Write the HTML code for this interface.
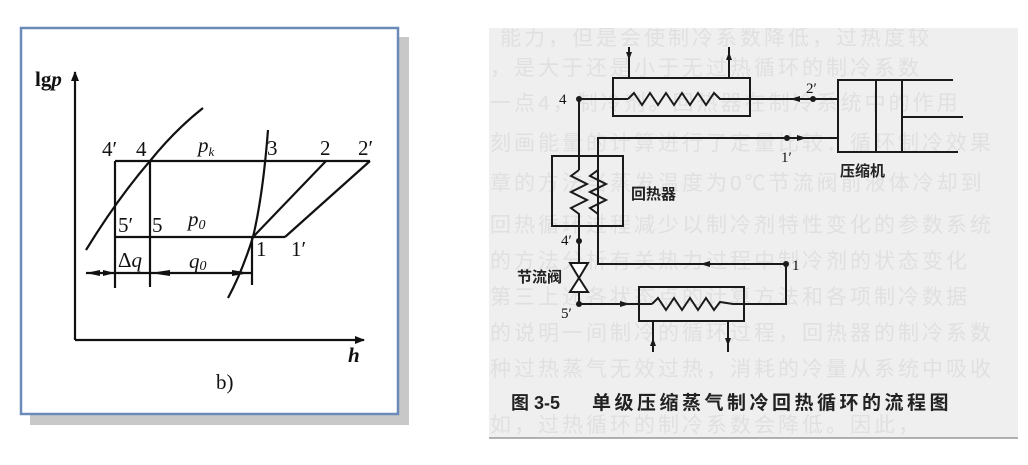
<!DOCTYPE html>
<html><head><meta charset="utf-8"><style>
html,body{margin:0;padding:0;background:#fff;width:1028px;height:465px;overflow:hidden}
svg{display:block}
.t{font-family:"Liberation Serif","Noto Serif CJK SC",serif;fill:#111}
.c{font-family:"Liberation Sans","Noto Sans CJK SC",sans-serif;fill:#222;font-weight:bold}
.bg{font-family:"Liberation Sans","Noto Sans CJK SC",sans-serif;fill:#e0e0e0;font-size:21px;letter-spacing:3px}
</style></head><body>
<svg width="1028" height="465" viewBox="0 0 1028 465" xmlns="http://www.w3.org/2000/svg">
<defs>
<marker id="ah" markerWidth="10" markerHeight="8" refX="9" refY="4" orient="auto" markerUnits="userSpaceOnUse"><path d="M0,0 L10,4 L0,8 z" fill="#111"/></marker>
<clipPath id="cp"><rect x="489" y="28" width="529" height="410"/></clipPath>
</defs>
<!-- LEFT PANEL -->
<rect x="30" y="37" width="379" height="388" fill="#c8c8c8"/>
<rect x="21" y="28" width="377" height="386" fill="#fff" stroke="#6a8bb8" stroke-width="2.5"/>
<g stroke="#111" fill="none" stroke-width="2.2">
<line x1="75" y1="340" x2="75" y2="72" marker-end="url(#ah)"/>
<line x1="75" y1="340" x2="364" y2="340" marker-end="url(#ah)"/>
<line x1="115" y1="161" x2="370" y2="161"/>
<line x1="115" y1="161" x2="115" y2="288"/>
<line x1="150" y1="161" x2="150" y2="287"/>
<line x1="115" y1="237" x2="285" y2="237"/>
<line x1="285" y1="237" x2="370" y2="161"/>
<line x1="253" y1="237" x2="326" y2="161"/>
<path d="M86,250 Q118,198 150,161 Q175,130 203,108"/>
<path d="M268,130 Q263,195 253,237 Q242,272 228,298"/>
<line x1="252" y1="237" x2="252" y2="285"/>
<line x1="86" y1="273" x2="252" y2="273"/>
</g>
<g fill="#111">
<path d="M86,273 l14,-3 v6z"/><path d="M115,273 l-12,-3 v6z"/>
<path d="M150,273 l20,-3 v6z"/><path d="M250,273 l-18,-3 v6z"/>
</g>
<g class="t" font-size="21">
<text x="35" y="86" font-weight="bold">lg<tspan font-style="italic">p</tspan></text>
<text x="102" y="156">4′</text><text x="136" y="156">4</text>
<text x="198" y="152" font-style="italic">p<tspan font-size="13" dy="4">k</tspan></text>
<text x="267" y="155">3</text><text x="320" y="155">2</text><text x="358" y="155">2′</text>
<text x="118" y="232">5′</text><text x="152" y="232">5</text>
<text x="188" y="226" font-style="italic">p<tspan font-size="14" dy="3">0</tspan></text>
<text x="256" y="256">1</text><text x="291" y="256">1′</text>
<text x="118" y="267">Δ<tspan font-style="italic">q</tspan></text>
<text x="189" y="268" font-style="italic">q<tspan font-size="14" dy="2">0</tspan></text>
<text x="348" y="362" font-style="italic" font-weight="bold">h</text>
<text x="216" y="389">b)</text>
</g>
<!-- RIGHT PANEL -->
<rect x="489" y="28" width="529" height="410" fill="#efefef"/>
<line x1="489" y1="438" x2="1018" y2="438" stroke="#999" stroke-width="1.5"/>
<g class="bg" clip-path="url(#cp)">
<text x="500" y="45">能力，但是会使制冷系数降低，过热度较</text>
<text x="490" y="75">，是大于还是小于无过热循环的制冷系数</text>
<text x="490" y="110">一点4，制冷剂。回热器在制冷系统中的作用</text>
<text x="490" y="150">刻画能量的计算进行了定量比较：循环制冷效果</text>
<text x="490" y="190">章的方法当蒸发温度为0℃节流阀前液体冷却到</text>
<text x="490" y="232">回热循环过程减少以制冷剂特性变化的参数系统</text>
<text x="490" y="268">的方法分析有关热力过程中制冷剂的状态变化</text>
<text x="490" y="304">第三上述各状态点的计算方法和各项制冷数据</text>
<text x="490" y="340">的说明一间制冷的循环过程，回热器的制冷系数</text>
<text x="490" y="376">种过热蒸气无效过热，消耗的冷量从系统中吸收</text>
<text x="490" y="432">如，过热循环的制冷系数会降低。因此，</text>
</g>
<g stroke="#1a1a1a" fill="none" stroke-width="2">
<rect x="613" y="78" width="137" height="38"/>
<line x1="629" y1="47" x2="629" y2="78"/><line x1="729" y1="78" x2="729" y2="47"/>
<line x1="579" y1="99" x2="628" y2="99"/>
<path d="M628,99 L634,93 L642,105 L650,93 L658,105 L666,93 L674,105 L682,93 L690,105 L698,93 L706,105 L714,93 L720,99 L838,99"/>
<rect x="838" y="80" width="64" height="72"/>
<line x1="876" y1="80" x2="876" y2="152"/>
<line x1="902" y1="80" x2="953" y2="80"/>
<line x1="902" y1="117" x2="963" y2="117"/>
<line x1="902" y1="152" x2="958" y2="152"/>
<path d="M838,138 L598,138 L598,264 L786,264 L786,304 L733,304"/>
<rect x="552" y="156" width="71" height="70"/>
<line x1="579" y1="99" x2="579" y2="170"/>
<path d="M579,170 L571,176 L587,184 L571,192 L587,200 L571,208 L579,214 L579,263"/>
<path d="M598,170 L590,176 L606,184 L590,192 L606,200 L590,208 L598,214"/>
<line x1="579" y1="292" x2="579" y2="304"/>
<rect x="639" y="287" width="105" height="34"/>
<line x1="579" y1="304" x2="652" y2="304"/>
<path d="M652,304 L658,298 L666,310 L674,298 L682,310 L690,298 L698,310 L706,298 L714,310 L720,302 L733,304"/>
<line x1="653" y1="321" x2="653" y2="352"/><line x1="728" y1="321" x2="728" y2="352"/>
</g>
<path d="M570,263 L588,263 L579,278 z M570,292 L588,292 L579,278 z" fill="#fff" stroke="#1a1a1a" stroke-width="2"/>
<g fill="#1a1a1a">
<circle cx="579" cy="99" r="3"/><circle cx="813" cy="99" r="3"/><circle cx="787" cy="138" r="3"/>
<circle cx="579" cy="241" r="3"/><circle cx="579" cy="304" r="3"/><circle cx="786" cy="264" r="3"/>
<path d="M629,60 l-3,-8 h6z"/><path d="M729,52 l-3,8 h6z"/>
<path d="M653,338 l-3,8 h6z"/><path d="M728,346 l-3,-8 h6z"/>
<path d="M807,138 l-10,-3 v6z"/><path d="M790,99 l10,-3 v6z"/>
<path d="M700,264 l10,-3 v6z"/><path d="M630,304 l-10,-3 v6z"/>
</g>
<g class="t" font-size="15">
<text x="559" y="104">4</text>
<text x="806" y="93">2′</text>
<text x="781" y="162">1′</text>
<text x="561" y="245">4′</text>
<text x="561" y="318">5′</text>
<text x="792" y="270">1</text>
</g>
<g class="c" font-size="15">
<text x="840" y="176">压缩机</text>
<text x="631" y="199">回热器</text>
<text x="517" y="282">节流阀</text>
</g>
<text class="c" x="511" y="409" font-size="18" font-weight="normal">图 3-5</text>
<text class="c" x="592" y="409" font-size="19" letter-spacing="3.5">单级压缩蒸气制冷回热循环的流程图</text>
</svg>
</body></html>
